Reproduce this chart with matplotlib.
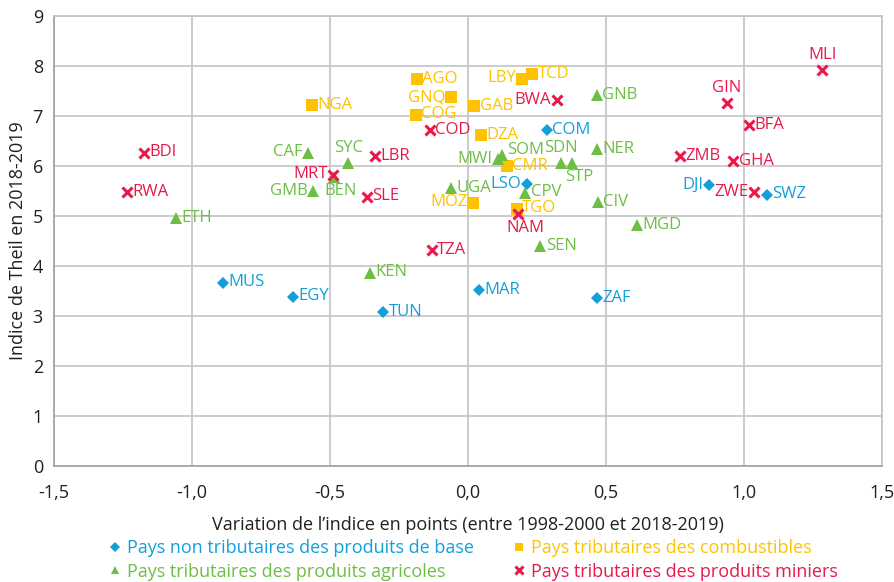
import matplotlib.pyplot as plt

# non tributaires des produits de base
base_codes = ['COM', 'LSO', 'DJI', 'SWZ', 'MUS', 'EGY', 'TUN', 'MAR', 'ZAF']
base_x = [0.285, 0.213, 0.874, 1.082, -0.887, -0.635, -0.307, 0.039, 0.467]
base_y = [6.72, 5.64, 5.62, 5.43, 3.67, 3.39, 3.08, 3.52, 3.36]

# tributaires des combustibles
fuel_codes = ['AGO', 'GNQ', 'COG', 'GAB', 'LBY', 'TCD', 'DZA', 'CMR', 'MOZ', 'TGO', 'NGA']
fuel_x = [-0.185, -0.063, -0.19, 0.022, 0.194, 0.232, 0.047, 0.14, 0.019, 0.176, -0.565]
fuel_y = [7.74, 7.38, 7.03, 7.21, 7.75, 7.85, 6.62, 6.01, 5.27, 5.15, 7.22]

# tributaires des produits agricoles
agri_codes = ['CAF', 'SYC', 'GMB', 'BEN', 'ETH', 'KEN', 'UGA', 'MWI', 'SOM', 'CPV',
              'SDN', 'STP', 'GNB', 'NER', 'CIV', 'SEN', 'MGD']
agri_x = [-0.58, -0.434, -0.56, -0.487, -1.058, -0.355, -0.062, 0.11, 0.122, 0.208,
          0.337, 0.377, 0.467, 0.466, 0.47, 0.262, 0.611]
agri_y = [6.27, 6.07, 5.5, 5.79, 4.97, 3.87, 5.57, 6.14, 6.23, 5.47,
          6.07, 6.07, 7.42, 6.34, 5.29, 4.41, 4.82]

# tributaires des produits miniers
mine_codes = ['BDI', 'RWA', 'MRT', 'LBR', 'SLE', 'COD', 'BWA', 'NAM', 'TZA', 'MLI',
              'GIN', 'BFA', 'ZMB', 'GHA', 'ZWE']
mine_x = [-1.174, -1.237, -0.488, -0.337, -0.367, -0.138, 0.321, 0.181, -0.132, 1.283,
          0.937, 1.017, 0.768, 0.961, 1.036]
mine_y = [6.27, 5.48, 5.83, 6.2, 5.39, 6.72, 7.33, 5.05, 4.33, 7.92,
          7.27, 6.82, 6.21, 6.1, 5.48]

series_names = ['Pays non tributaires des produits de base',
                'Pays tributaires des combustibles',
                'Pays tributaires des produits agricoles',
                'Pays tributaires des produits miniers']

# label placement (default: right of the marker)
left_lbl = ['LSO', 'DJI', 'GNQ', 'LBY', 'MOZ', 'CAF', 'GMB', 'MWI', 'MRT', 'BWA', 'ZWE']
top_lbl = ['SYC', 'SDN', 'MLI', 'GIN']
below_lbl = ['BEN', 'NAM', 'STP']
upper_right_lbl = ['SOM']

plt.rcParams['font.family'] = ['Open Sans', 'DejaVu Sans']
narrow = ['Liberation Sans Narrow', 'Open Sans', 'DejaVu Sans']

blue = '#129FDA'
yellow = '#FDC300'
green = '#6DBE45'
red = '#E8194B'

fig = plt.figure(figsize=(8.95, 5.82), dpi=100)
ax = fig.add_axes([54 / 895, 116 / 582, 828 / 895, 450 / 582])

groups = [
    (base_codes, base_x, base_y, blue, 'D', 6),
    (fuel_codes, fuel_x, fuel_y, yellow, 's', 8),
    (agri_codes, agri_x, agri_y, green, '^', 8),
    (mine_codes, mine_x, mine_y, red, 'x', 7),
]

handles = []
for (codes, xs, ys, col, mk, ms), name in zip(groups, series_names):
    if mk == 'x':
        h, = ax.plot(xs, ys, ls='none', marker=mk, color=col, ms=ms, mew=2.2, label=name, zorder=3)
    else:
        h, = ax.plot(xs, ys, ls='none', marker=mk, color=col, ms=ms, mew=0, label=name, zorder=3)
    handles.append(h)
    for c, x, y in zip(codes, xs, ys):
        if c in left_lbl:
            ax.annotate(c, (x, y), xytext=(-4, 0), textcoords='offset points',
                        ha='right', va='center', color=col, fontsize=12)
        elif c in top_lbl:
            ax.annotate(c, (x, y), xytext=(0, 5), textcoords='offset points',
                        ha='center', va='bottom', color=col, fontsize=12)
        elif c in below_lbl:
            ax.annotate(c, (x, y), xytext=(5, -5), textcoords='offset points',
                        ha='center', va='top', color=col, fontsize=12)
        elif c in upper_right_lbl:
            ax.annotate(c, (x, y), xytext=(4, 3), textcoords='offset points',
                        ha='left', va='center', color=col, fontsize=12)
        else:
            ax.annotate(c, (x, y), xytext=(4, 0), textcoords='offset points',
                        ha='left', va='center', color=col, fontsize=12)

ax.set_xlim(-1.5, 1.5)
ax.set_ylim(0, 9)
xt = [-1.5, -1.0, -0.5, 0.0, 0.5, 1.0, 1.5]
ax.set_xticks(xt)
ax.set_xticklabels([f'{v:.1f}'.replace('.', ',') for v in xt], family=narrow, fontsize=13)
ax.set_yticks(range(10))
ax.set_yticklabels([str(v) for v in range(10)], family=narrow, fontsize=13)
ax.tick_params(length=0, colors='#231F20')
ax.tick_params(axis='x', pad=13)
ax.tick_params(axis='y', pad=8)
ax.grid(True, color='#C4C4C4', lw=1.2)
ax.set_axisbelow(True)
for s in ax.spines.values():
    s.set_color('#C4C4C4')
    s.set_linewidth(1.2)
ax.spines['left'].set_color('#A0A0A0')
ax.spines['bottom'].set_color('#A0A0A0')

ax.set_xlabel('Variation de l\u2019indice en points (entre 1998-2000 et 2018-2019)',
              family=narrow, fontsize=13, color='#231F20', labelpad=10)
ax.set_ylabel('Indice de Theil en 2018-2019', family=narrow, fontsize=13, color='#231F20')

order = [0, 2, 1, 3]
leg = fig.legend([handles[i] for i in order], [series_names[i] for i in order],
                 loc='lower left', bbox_to_anchor=(100 / 895, -0.013), ncol=2,
                 frameon=False, prop={'family': narrow, 'size': 13},
                 handletextpad=0.3, columnspacing=2.15, labelspacing=0.3,
                 handlelength=0.7, markerscale=0.8, borderpad=0.0)
for t, i in zip(leg.get_texts(), order):
    t.set_color(groups[i][3])

fig.savefig('out.png', dpi=100)
